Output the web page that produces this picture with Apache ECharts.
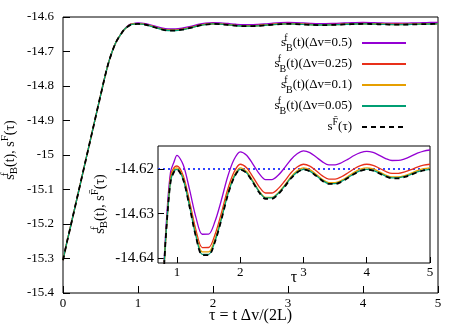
<!DOCTYPE html>
<html>
<head>
<meta charset="utf-8">
<script src="https://cdn.jsdelivr.net/npm/echarts@6/dist/echarts.min.js"></script>
<style>
  html, body { margin: 0; padding: 0; background: #fff; }
  #chart { width: 463px; height: 324px; }
</style>
</head>
<body>
<div id="chart"></div>
<script>
// tau = t dv / (2L)
const tau = [0, 0.05, 0.1, 0.2, 0.3, 0.4, 0.5, 0.6, 0.7, 0.8, 0.85, 0.9, 0.95,
  1.0, 1.1, 1.2, 1.3, 1.4, 1.5, 1.6, 1.7, 1.8, 1.9,
  2.0, 2.1, 2.2, 2.3, 2.4, 2.5, 2.6, 2.7, 2.8, 2.9,
  3.0, 3.1, 3.2, 3.3, 3.4, 3.5, 3.6, 3.7, 3.8, 3.9,
  4.0, 4.1, 4.2, 4.3, 4.4, 4.5, 4.6, 4.7, 4.8, 4.9, 5.0]

const sB_dv05 = [-15.305, -15.255, -15.208, -15.113, -15.018, -14.923, -14.828, -14.738, -14.676, -14.640, -14.628, -14.6205, -14.6185,
  -14.6169, -14.61907, -14.62468, -14.63084, -14.63464, -14.63462, -14.63179, -14.62706, -14.62177, -14.6179,
  -14.6161, -14.61687, -14.61885, -14.62103, -14.62237, -14.62237, -14.62138, -14.61973, -14.61788, -14.61653,
  -14.6159, -14.61628, -14.61728, -14.61836, -14.61904, -14.61904, -14.61857, -14.6178, -14.61693, -14.61629,
  -14.616, -14.61625, -14.6169, -14.61762, -14.61806, -14.61805, -14.61769, -14.61709, -14.61642, -14.61593, -14.6157]

const sB_dv025 = [-15.305, -15.255, -15.208, -15.113, -15.018, -14.923, -14.828, -14.738, -14.676, -14.641, -14.630, -14.6215, -14.6197,
  -14.6193, -14.62154, -14.62734, -14.6337, -14.63763, -14.63762, -14.63475, -14.62998, -14.62463, -14.62071,
  -14.6189, -14.61969, -14.62174, -14.62398, -14.62537, -14.62537, -14.62438, -14.62273, -14.62088, -14.61953,
  -14.6189, -14.61931, -14.62036, -14.62152, -14.62223, -14.62223, -14.62172, -14.62087, -14.61992, -14.61922,
  -14.6189, -14.61915, -14.6198, -14.62052, -14.62096, -14.62096, -14.62064, -14.62012, -14.61953, -14.6191, -14.6189]

const sB_dv01 = [-15.305, -15.255, -15.208, -15.113, -15.018, -14.923, -14.828, -14.738, -14.676, -14.641, -14.630, -14.6222, -14.6200,
  -14.6197, -14.62202, -14.628, -14.63456, -14.63861, -14.63861, -14.63572, -14.63089, -14.62549, -14.62153,
  -14.6197, -14.62052, -14.62262, -14.62494, -14.62636, -14.62636, -14.62534, -14.62364, -14.62174, -14.62035,
  -14.6197, -14.62011, -14.62116, -14.62232, -14.62303, -14.62303, -14.62252, -14.62167, -14.62072, -14.62002,
  -14.6197, -14.61995, -14.6206, -14.62132, -14.62176, -14.62176, -14.62144, -14.62092, -14.62033, -14.6199, -14.6197]

const sB_dv005 = [-15.305, -15.255, -15.208, -15.113, -15.018, -14.923, -14.828, -14.738, -14.676, -14.641, -14.630, -14.6226, -14.6205,
  -14.62005, -14.62239, -14.62844, -14.63507, -14.63916, -14.63916, -14.63624, -14.63136, -14.6259, -14.6219,
  -14.62005, -14.62084, -14.62287, -14.62509, -14.62647, -14.62647, -14.62549, -14.62385, -14.62202, -14.62067,
  -14.62005, -14.62044, -14.62145, -14.62255, -14.62324, -14.62324, -14.62275, -14.62194, -14.62103, -14.62036,
  -14.62005, -14.62028, -14.62089, -14.62155, -14.62196, -14.62196, -14.62167, -14.62118, -14.62064, -14.62024, -14.62005]

const sF = [-15.305, -15.255, -15.208, -15.113, -15.018, -14.923, -14.828, -14.738, -14.676, -14.641, -14.630, -14.6228, -14.6207,
  -14.6201, -14.62245, -14.62853, -14.63519, -14.63931, -14.63931, -14.63637, -14.63147, -14.62598, -14.62196,
  -14.6201, -14.6209, -14.62298, -14.62526, -14.62667, -14.62667, -14.62566, -14.62399, -14.62211, -14.62074,
  -14.6201, -14.6205, -14.62152, -14.62264, -14.62333, -14.62333, -14.62284, -14.62201, -14.62109, -14.62041,
  -14.6201, -14.62034, -14.62096, -14.62164, -14.62206, -14.62206, -14.62176, -14.62126, -14.6207, -14.62029, -14.6201]

const insetRef = -14.62
const insetYTicks = [-14.64, -14.63, -14.62]
const insetXTicks = [1, 2, 3, 4, 5]

const FONT = '"Liberation Serif", "DejaVu Serif", serif'

const rich = {
  t: { fontFamily: FONT, fontSize: 14, lineHeight: 20, verticalAlign: 'middle', color: '#000' },
  fz: { fontFamily: FONT, fontSize: 11, lineHeight: 11, verticalAlign: 'top', width: 0, align: 'left', color: '#000' },
  sb: { fontFamily: FONT, fontSize: 11, lineHeight: 11, verticalAlign: 'bottom', color: '#000' },
  sp: { fontFamily: FONT, fontSize: 11, lineHeight: 11, verticalAlign: 'top', color: '#000' }
}
// legend text is a bit smaller than the axis titles
const legendRich = {
  t: Object.assign({}, rich.t, { fontSize: 13 }),
  fz: Object.assign({}, rich.fz, { fontSize: 10, lineHeight: 10 }),
  sb: Object.assign({}, rich.sb, { fontSize: 10, lineHeight: 10 }),
  sp: Object.assign({}, rich.sp, { fontSize: 10, lineHeight: 10 })
}

const names = ['sB05', 'sB025', 'sB01', 'sB005', 'sF']
const labels = {
  sB05: '{t|s}{fz|f}{sb|B}{t|(t)(Δv=0.5)}',
  sB025: '{t|s}{fz|f}{sb|B}{t|(t)(Δv=0.25)}',
  sB01: '{t|s}{fz|f}{sb|B}{t|(t)(Δv=0.1)}',
  sB005: '{t|s}{fz|f}{sb|B}{t|(t)(Δv=0.05)}',
  sF: '{t|s}{sp|F\u0304}{t|(τ)}'
}
const colors = ['#9400d3', '#e8301a', '#e69f00', '#009e73', '#000000']
const values = [sB_dv05, sB_dv025, sB_dv01, sB_dv005, sF]

const chart = echarts.init(document.getElementById('chart'))

const makeSeries = (idx) => values.map((ys, i) => ({
  name: names[i],
  type: 'line',
  xAxisIndex: idx,
  yAxisIndex: idx,
  smooth: 0.3,
  symbol: 'none',
  z: 2 + i + idx * 10,
  lineStyle: {
    color: colors[i],
    width: i === 4 ? 1.8 : 1.3,
    type: i === 4 ? [5, 4] : 'solid'
  },
  itemStyle: { color: colors[i] },
  data: tau.map((t, k) => [t, ys[k]]),
  markLine: (idx === 1 && i === 0) ? {
    silent: true,
    symbol: 'none',
    label: { show: false },
    lineStyle: { color: '#3344ff', type: [2, 3], width: 2 },
    data: [{ yAxis: insetRef }]
  } : undefined
}))

const yName = '{t|s}{fz|f}{sb|B}{t|(t), s}{sp|F\u0304}{t|(τ)}'

const option = {
  animation: false,
  textStyle: { fontFamily: FONT },
  legend: {
    data: names,
    orient: 'vertical',
    align: 'right',
    right: 51,
    top: 28,
    itemWidth: 44,
    itemHeight: 10,
    itemGap: 1,
    itemStyle: { opacity: 0 },
    formatter: (n) => labels[n],
    textStyle: { rich: legendRich, padding: [0, 5, 0, 0] }
  },
  grid: [
    { left: 63, top: 17, width: 375, height: 276, show: true, borderColor: '#000', borderWidth: 1, backgroundColor: '#fff', outerBoundsMode: 'none', containLabel: false },
    { left: 158, top: 146, width: 272, height: 117, show: true, borderColor: '#000', borderWidth: 1, backgroundColor: '#fff', z: 5, outerBoundsMode: 'none', containLabel: false }
  ],
  graphic: [
    { type: 'text', x: 10, y: 150, rotation: Math.PI / 2, z: 10,
      style: { text: yName, rich: rich, align: 'center', verticalAlign: 'middle' } },
    { type: 'text', x: 100, y: 204, rotation: Math.PI / 2, z: 10,
      style: { text: yName, rich: rich, align: 'center', verticalAlign: 'middle' } }
  ],
  xAxis: [
    {
      type: 'value', gridIndex: 0, min: 0, max: 5, interval: 1,
      axisLine: { show: false },
      axisTick: { inside: true, length: 7, lineStyle: { color: '#000' } },
      splitLine: { show: false },
      axisLabel: { color: '#000', fontSize: 13, fontFamily: FONT, margin: 4 },
      name: 'τ = t Δv/(2L)',
      nameLocation: 'middle',
      nameGap: 15,
      nameMoveOverlap: false,
      nameTextStyle: { color: '#000', fontSize: 16, fontFamily: FONT, verticalAlign: 'top' }
    },
    {
      type: 'value', gridIndex: 1, min: 0.7, max: 5,
      axisLine: { show: false },
      axisTick: { inside: true, length: 6, customValues: insetXTicks, lineStyle: { color: '#000' } },
      splitLine: { show: false },
      axisLabel: { color: '#000', fontSize: 13, fontFamily: FONT, margin: 3, customValues: insetXTicks },
      name: 'τ',
      nameLocation: 'middle',
      nameGap: 7,
      nameMoveOverlap: false,
      nameTextStyle: { color: '#000', fontSize: 16, fontFamily: FONT, verticalAlign: 'top' },
      z: 6
    }
  ],
  yAxis: [
    {
      type: 'value', gridIndex: 0, min: -15.4, max: -14.6, interval: 0.1,
      axisLine: { show: false },
      axisTick: { inside: true, length: 7, lineStyle: { color: '#000' } },
      splitLine: { show: false },
      axisLabel: {
        color: '#000', fontSize: 13, fontFamily: FONT, margin: 9,
        formatter: (v) => String(Math.round(v * 10) / 10)
      }
    },
    {
      type: 'value', gridIndex: 1, min: -14.6411, max: -14.6148,
      axisLine: { show: false },
      axisTick: { inside: true, length: 6, customValues: insetYTicks, lineStyle: { color: '#000' } },
      splitLine: { show: false },
      axisLabel: {
        color: '#000', fontSize: 15, fontFamily: FONT, margin: 4, customValues: insetYTicks,
        formatter: (v) => (Math.round(v * 100) / 100).toFixed(2)
      },
      z: 6
    }
  ],
  series: makeSeries(0).concat(makeSeries(1))
}

chart.setOption(option)
</script>
</body>
</html>
